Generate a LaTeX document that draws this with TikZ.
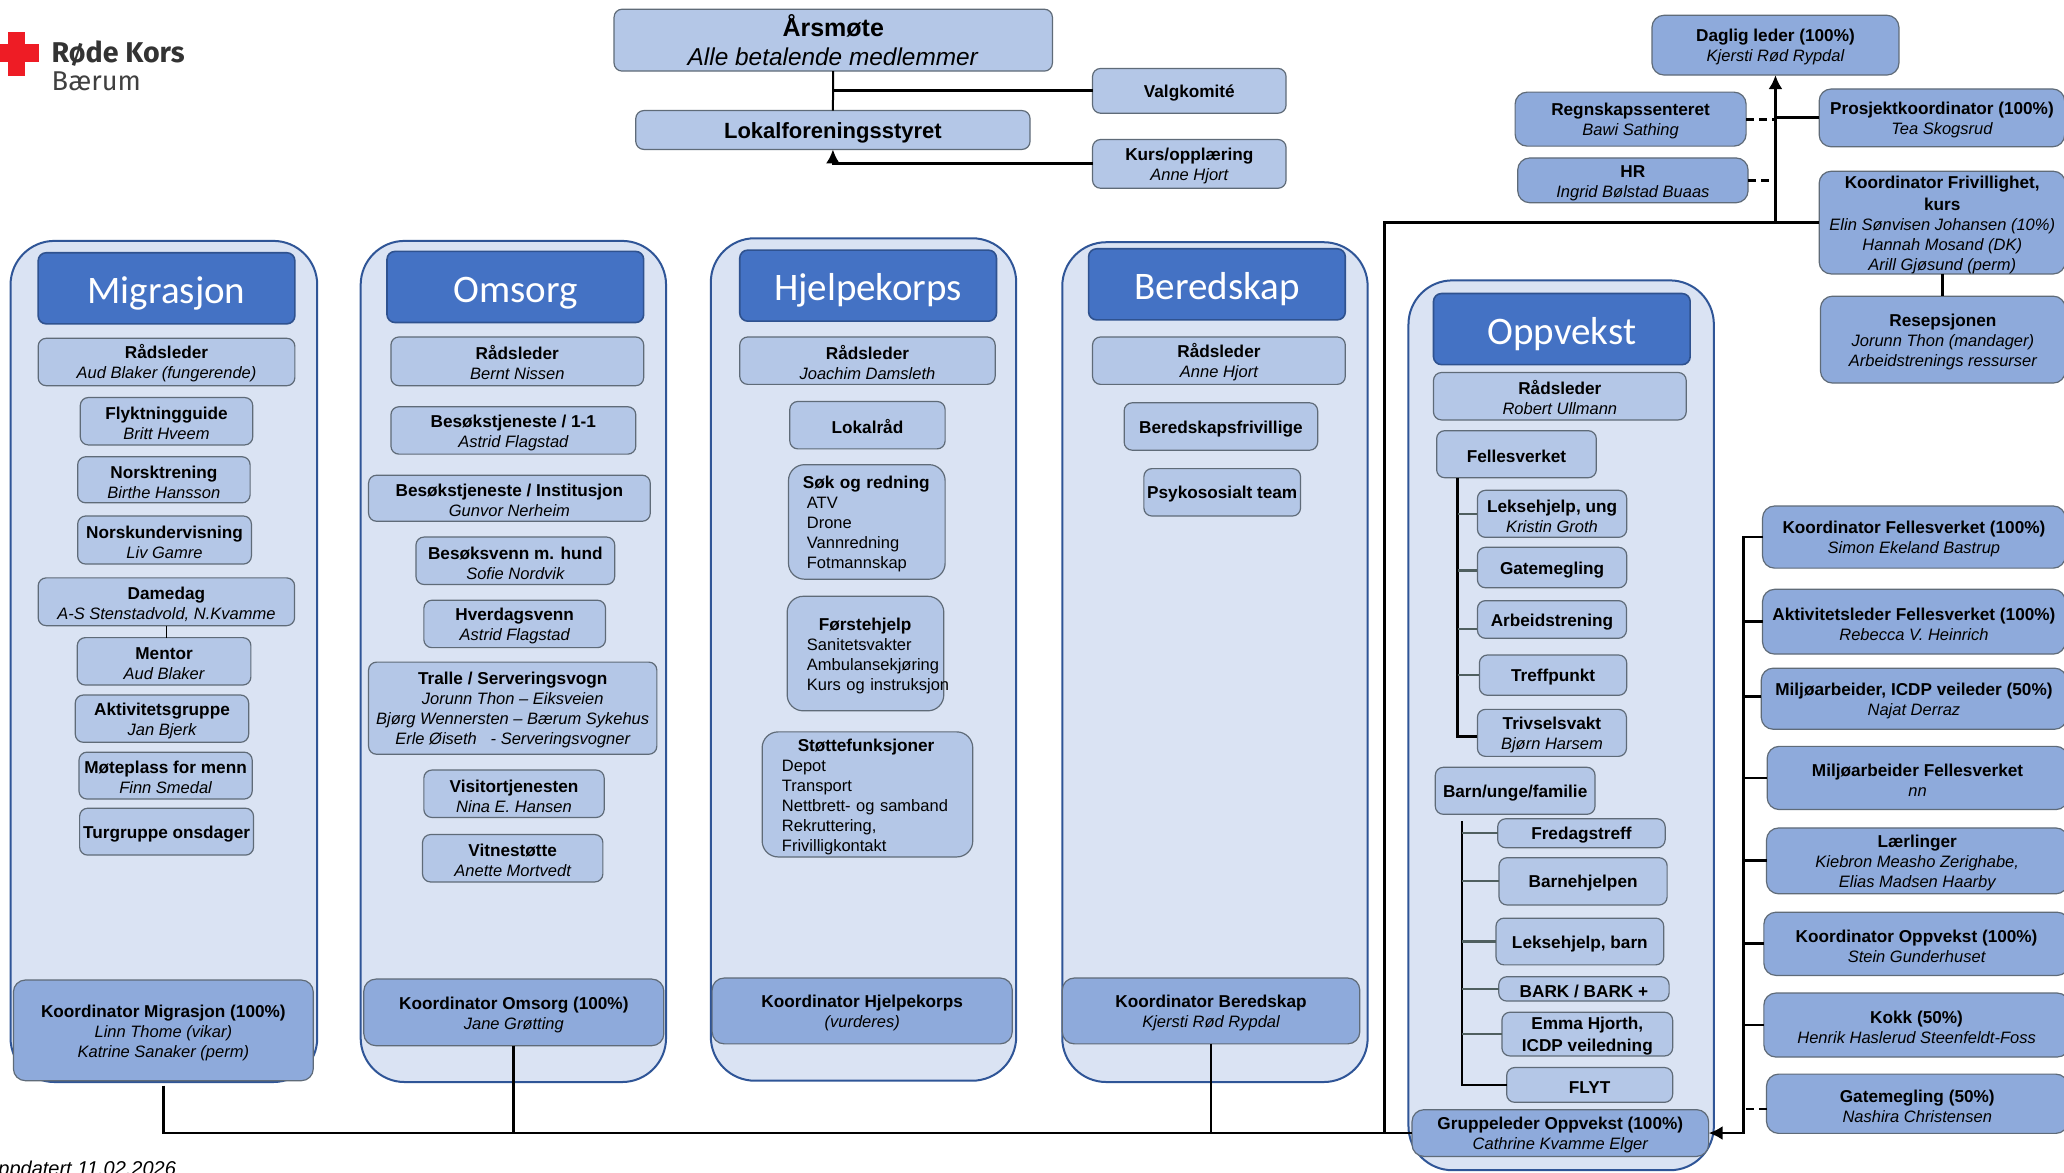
\documentclass[tikz,border=0pt]{standalone}
\usepackage{fontspec}
\setmainfont{Liberation Sans}
\newfontfamily\headfont{Carlito}
\newfontfamily\logofont{Fira Sans}
\usetikzlibrary{arrows.meta}
\definecolor{panelfill}{HTML}{DAE3F3}
\definecolor{paneldraw}{HTML}{2F5597}
\definecolor{headfill}{HTML}{4472C4}
\definecolor{headdraw}{HTML}{2F528F}
\definecolor{lightfill}{HTML}{B4C7E7}
\definecolor{darkfill}{HTML}{8EAADB}
\definecolor{boxdraw}{HTML}{5F6B78}
\definecolor{stubdraw}{HTML}{4F5F5F}
\definecolor{crossred}{HTML}{EE1C25}
\newcommand{\bd}[1]{\rule{0pt}{8.4pt}\textbf{#1}}
\newcommand{\nm}[1]{{\itshape\fontsize{8.25}{10}\selectfont #1}}
\newcommand{\ttl}[1]{{\bfseries\fontsize{8.6}{10}\selectfont #1}}
\tikzset{span/.style n args = {4}{at={({(#1+#3)/2},{(#2+#4)/2})}, minimum width={(#3-#1)*0.658163pt}, minimum height={(#4-#2)*0.658163pt}}}
\tikzset{panel/.style = {draw=paneldraw, fill=panelfill, line width=1pt, rounded corners=22pt, inner sep=0pt, outer sep=0pt}}
\tikzset{head/.style = {draw=headdraw, fill=headfill, text=white, line width=0.8pt, rounded corners=4pt, inner sep=0pt, outer sep=0pt, font=\headfont\fontsize{19.5}{22}\selectfont, execute at begin node={\rule{0pt}{18.5pt}}}}
\tikzset{basebox/.style = {draw=boxdraw, fill=lightfill, line width=0.6pt, rounded corners=4pt, inner sep=0pt, outer sep=0pt, font=\fontsize{8.6}{10}\selectfont}}
\tikzset{lightbox/.style = {basebox, align=center}}
\tikzset{darkbox/.style = {lightbox, fill=darkfill, rounded corners=6pt}}
\tikzset{leftbox/.style = {basebox, align=left, rounded corners=8pt, font=\fontsize{8.25}{10}\selectfont, execute at begin node={\rule{0pt}{8.4pt}}}}
\tikzset{conn/.style = {line width=1.4pt, black}}
\tikzset{thinconn/.style = {line width=0.7pt, black}}
\tikzset{stub/.style = {line width=1.1pt, stubdraw}}
\tikzset{dashconn/.style = {conn, dash pattern=on 4pt off 2.5pt}}

\begin{document}
\begin{tikzpicture}[x=0.658163pt, y=-0.658163pt, >={Latex[length=7pt,width=7pt]}]
  \path[use as bounding box, clip] (0,0) rectangle (1568,890.45);
  \fill [white] (0,0) rectangle (1568,890.45);

  % logo
  \fill [crossred] (6.4,24.6) rectangle (19,57.7);
  \fill [crossred] (0,33.7) rectangle (29.3,47.4);
  \node [anchor=base west, inner sep=0pt, text=black!80, font=\logofont\bfseries\fontsize{14.3}{18}\selectfont] (logotop) at (39,47.5) {Røde Kors};
  \node [anchor=base west, inner sep=0pt, text=black!75, font=\logofont\fontsize{13.6}{18}\selectfont] (logobottom) at (39,69) {Bærum};
  \node [anchor=base east, inner sep=0pt, font=\itshape\fontsize{10}{12}\selectfont] (updated) at (134,893) {Oppdatert 11.02.2026};

  % groups
  \node [panel, span={8}{183}{241}{822}] (migpanel) {};
  \node [panel, span={274}{183}{506}{822}] (omspanel) {};
  \node [panel, span={540}{181}{772}{821}] (hjpanel) {};
  \node [panel, span={807}{184}{1039}{822}] (berpanel) {};
  \node [panel, span={1070}{213}{1302}{889}] (opppanel) {};

  \node [head, span={29}{192}{224}{246}] (mighead) {Migrasjon};
  \node [head, span={294}{191}{489}{245}] (omshead) {Omsorg};
  \node [head, span={562}{190}{757}{244}] (hjhead) {Hjelpekorps};
  \node [head, span={827}{189}{1022}{243}] (berhead) {Beredskap};
  \node [head, span={1089}{223}{1284}{277}] (opphead) {Oppvekst};

  % top
  \node [lightbox, font=\fontsize{12.2}{14.5}\selectfont, span={466.5}{7}{799.5}{54}] (arsmote) {\textbf{\fontsize{12.5}{14.5}\selectfont Årsmøte}\\\textit{Alle betalende medlemmer}};
  \node [lightbox, font=\bfseries\fontsize{11}{13}\selectfont, span={483}{84}{782.5}{113.5}] (styret) {\rule{0pt}{11pt}Lokalforeningsstyret};
  \node [lightbox, span={830}{52}{977}{86}] (valg) {\bd{Valgkomité}};
  \node [lightbox, span={830}{106}{977}{143}] (kurs) {\bd{Kurs/opplæring}\\\nm{Anne Hjort}};

  \node [darkbox, span={1255}{11.6}{1442.6}{57}] (daglig) {\bd{Daglig leder (100\%)}\\\nm{Kjersti Rød Rypdal}};
  \node [darkbox, span={1151}{70}{1326.5}{111}] (regnskap) {\bd{Regnskapssenteret}\\\nm{Bawi Sathing}};
  \node [darkbox, span={1153}{120}{1328}{154}] (hr) {\bd{HR}\\\nm{Ingrid Bølstad Buaas}};
  \node [darkbox, span={1382}{67.6}{1568.5}{111.5}] (prosjekt) {\bd{Prosjektkoordinator (100\%)}\\\nm{Tea Skogsrud}};
  \node [darkbox, span={1382}{131.6}{1569}{206.6}] (frivillig) {\bd{Koordinator Frivillighet,}\\\bd{kurs}\\\nm{Elin Sønvisen Johansen (10\%)}\\\nm{Hannah Mosand (DK)}\\\nm{Arill Gjøsund (perm)}};
  \node [darkbox, span={1383}{225}{1569}{291}] (resepsjon) {\bd{Resepsjonen}\\\nm{Jorunn Thon (mandager)}\\\nm{Arbeidstrenings ressurser}};

  % Migrasjon
  \node [lightbox, span={29}{257}{224}{293}] (migrad) {\bd{Rådsleder}\\\nm{Aud Blaker (fungerende)}};
  \node [lightbox, span={61}{302}{192}{338}] (flykt) {\bd{Flyktningguide}\\\nm{Britt Hveem}};
  \node [lightbox, span={59}{347}{190}{382}] (norsktren) {\bd{Norsktrening}\\\nm{Birthe Hansson}};
  \node [lightbox, span={59}{392}{191}{428.5}] (norskund) {\bd{Norskundervisning}\\\nm{Liv Gamre}};
  \node [lightbox, span={29}{439}{223.8}{475.3}] (damedag) {\bd{Damedag}\\\nm{A-S Stenstadvold, N.Kvamme}};
  \node [lightbox, span={58.7}{484.4}{190.6}{520.4}] (mentor) {\bd{Mentor}\\\nm{Aud Blaker}};
  \node [lightbox, span={57.2}{528}{188.9}{563.9}] (aktgruppe) {\bd{Aktivitetsgruppe}\\\nm{Jan Bjerk}};
  \node [lightbox, span={60}{571.4}{191.6}{607}] (moteplass) {\bd{Møteplass for menn}\\\nm{Finn Smedal}};
  \node [lightbox, span={60.5}{614}{192.6}{649.6}] (turgruppe) {\bd{Turgruppe onsdager}};
  \node [darkbox, span={10.2}{744.5}{238}{821}] (koordmig) {\bd{Koordinator Migrasjon (100\%)}\\\nm{Linn Thome (vikar)}\\\nm{Katrine Sanaker (perm)}};

  % Omsorg
  \node [lightbox, span={297}{256}{489}{293}] (omsrad) {\bd{Rådsleder}\\\nm{Bernt Nissen}};
  \node [lightbox, span={297}{309}{483}{345}] (besok) {\bd{Besøkstjeneste / 1-1}\\\nm{Astrid Flagstad}};
  \node [lightbox, span={280}{361}{494}{396}] (besokinst) {\bd{Besøkstjeneste / Institusjon}\\\nm{Gunvor Nerheim}};
  \node [lightbox, span={316}{408}{467}{444}] (besokhund) {\bd{Besøksvenn m. hund}\\\nm{Sofie Nordvik}};
  \node [lightbox, span={322}{456}{460}{492}] (hverdag) {\bd{Hverdagsvenn}\\\nm{Astrid Flagstad}};
  \node [lightbox, span={280}{503}{499}{573}] (tralle) {\bd{Tralle / Serveringsvogn}\\\nm{Jorunn Thon – Eiksveien}\\\nm{Bjørg Wennersten – Bærum Sykehus}\\\nm{Erle Øiseth \ \ - Serveringsvogner}};
  \node [lightbox, span={322}{585}{459}{621}] (visitor) {\bd{Visitortjenesten}\\\nm{Nina E. Hansen}};
  \node [lightbox, span={321}{634}{458}{670}] (vitne) {\bd{Vitnestøtte}\\\nm{Anette Mortvedt}};
  \node [darkbox, span={276.4}{743.8}{504.3}{794.4}] (koordoms) {\bd{Koordinator Omsorg (100\%)}\\\nm{Jane Grøtting}};

  % Hjelpekorps
  \node [lightbox, span={562}{256}{756}{292}] (hjrad) {\bd{Rådsleder}\\\nm{Joachim Damsleth}};
  \node [lightbox, span={600}{305}{718}{341}] (lokalrad) {\bd{Lokalråd}};
  \node [leftbox, text width=78.3pt, span={599}{353}{718}{440}] (sok) {\hspace*{7.2pt}\ttl{Søk og redning}\\\hspace*{9.2pt}ATV\\\hspace*{9.2pt}Drone\\\hspace*{9.2pt}Vannredning\\\hspace*{9.2pt}Fotmannskap};
  \node [leftbox, text width=78.3pt, span={598}{453}{717}{540}] (forstehjelp) {\hspace*{15.8pt}\ttl{Førstehjelp}\\\hspace*{9.9pt}Sanitetsvakter\\\hspace*{9.9pt}Ambulansekjøring\\\hspace*{9.9pt}\makebox[0pt][l]{Kurs og instruksjon}};
  \node [leftbox, text width=105.3pt, span={579}{556}{739}{651}] (stotte) {\hspace*{17.8pt}\ttl{Støttefunksjoner}\\\hspace*{9.9pt}Depot\\\hspace*{9.9pt}Transport\\\hspace*{9.9pt}Nettbrett- og samband\\\hspace*{9.9pt}Rekruttering,\\\hspace*{9.9pt}Frivilligkontakt};
  \node [darkbox, span={541}{743}{769}{793}] (koordhj) {\bd{Koordinator Hjelpekorps}\\\nm{(vurderes)}};

  % Beredskap
  \node [lightbox, span={830}{256}{1022}{292}] (berrad) {\bd{Rådsleder}\\\nm{Anne Hjort}};
  \node [lightbox, span={854}{306}{1001}{342}] (berfrivillig) {\bd{Beredskapsfrivillige}};
  \node [lightbox, span={869}{356}{988}{392}] (psyko) {\bd{Psykososialt team}};
  \node [darkbox, span={807}{743}{1033}{793}] (koordber) {\bd{Koordinator Beredskap}\\\nm{Kjersti Rød Rypdal}};

  % Oppvekst
  \node [lightbox, span={1089}{283}{1281}{319}] (opprad) {\bd{Rådsleder}\\\nm{Robert Ullmann}};
  \node [lightbox, span={1091.4}{327.2}{1212.7}{362.9}] (fellesverket) {\bd{Fellesverket}};
  \node [lightbox, span={1122.4}{372.5}{1235.8}{408.2}] (leksung) {\bd{Leksehjelp, ung}\\\nm{Kristin Groth}};
  \node [lightbox, span={1122.4}{415.8}{1235.8}{446.5}] (gatemegl) {\bd{Gatemegling}};
  \node [lightbox, span={1122.4}{456.3}{1235.6}{484.9}] (arbeid) {\bd{Arbeidstrening}};
  \node [lightbox, span={1123.9}{497.6}{1235.8}{528.2}] (treff) {\bd{Treffpunkt}};
  \node [lightbox, span={1122.4}{538.9}{1235.6}{574.6}] (trivsel) {\bd{Trivselsvakt}\\\nm{Bjørn Harsem}};
  \node [lightbox, span={1090.4}{582.9}{1211.7}{618.6}] (barnunge) {\bd{Barn/unge/familie}};
  \node [lightbox, span={1137.8}{622}{1265}{644}] (fredag) {\bd{Fredagstreff}};
  \node [lightbox, span={1138.8}{651.6}{1266.5}{687.5}] (barnehjelp) {\bd{Barnehjelpen}};
  \node [lightbox, span={1136.5}{697.5}{1263.9}{733}] (leksbarn) {\bd{Leksehjelp, barn}};
  \node [lightbox, span={1138.6}{742}{1268}{760.5}] (bark) {\bd{BARK / BARK +}};
  \node [lightbox, span={1141}{769}{1270.7}{802.2}] (emma) {\bd{Emma Hjorth,}\\\bd{ICDP veiledning}};
  \node [lightbox, span={1144.6}{811}{1270.7}{837.4}] (flyt) {\bd{FLYT}};
  \node [darkbox, span={1072.7}{843}{1298}{878.5}] (gruppeleder) {\bd{Gruppeleder Oppvekst (100\%)}\\\nm{Cathrine Kvamme Elger}};

  % right column
  \node [darkbox, span={1339}{384.4}{1569}{431.6}] (koordfelles) {\bd{Koordinator Fellesverket (100\%)}\\\nm{Simon Ekeland Bastrup}};
  \node [darkbox, span={1339}{447.7}{1569}{496.9}] (aktleder) {\bd{Aktivitetsleder Fellesverket (100\%)}\\\nm{Rebecca V. Heinrich}};
  \node [darkbox, span={1338}{507.6}{1570}{554}] (miljoicdp) {\bd{Miljøarbeider, ICDP veileder (50\%)}\\\nm{Najat Derraz}};
  \node [darkbox, span={1342.5}{567}{1571}{615}] (miljofelles) {\bd{Miljøarbeider Fellesverket}\\\nm{nn}};
  \node [darkbox, span={1342}{629}{1571}{679}] (laerling) {\bd{Lærlinger}\\\nm{Kiebron Measho Zerighabe,}\\\nm{Elias Madsen Haarby}};
  \node [darkbox, span={1340}{693}{1572}{741}] (koordopp) {\bd{Koordinator Oppvekst (100\%)}\\\nm{Stein Gunderhuset}};
  \node [darkbox, span={1340}{754.4}{1572}{803}] (kokk) {\bd{Kokk (50\%)}\\\nm{Henrik Haslerud Steenfeldt-Foss}};
  \node [darkbox, span={1342}{816}{1571}{861}] (gatefelles) {\bd{Gatemegling (50\%)}\\\nm{Nashira Christensen}};

  % connectors
  \coordinate (hub) at (daglig.south |- frivillig.west);
  \coordinate (busjoin) at (1052,860.75);
  \coordinate (rightbar) at (1324.4,408);
  \coordinate (felltrunk) at (1107.4,362.9);
  \coordinate (barntrunk) at (1110.7,624);

  \draw [line width=1pt] (arsmote.south) -- (styret.north);
  \draw [conn] (valg.west) -- (valg.west -| arsmote.south);
  \draw [conn, ->] (kurs.west) -| (styret.south);

  \draw [conn, ->] (hub) -- (daglig.south);
  \draw [conn] (frivillig.west) -- (hub);
  \draw [conn] (prosjekt.west) -- (prosjekt.west -| hub);
  \draw [dashconn] (regnskap.east) -- (regnskap.east -| hub);
  \draw [dashconn] (hr.east) -- (hr.east -| hub);
  \draw [conn] (frivillig.south) -- (frivillig.south |- resepsjon.north);
  \draw [conn] (hub) -| (busjoin);

  \draw [thinconn] (damedag.south) -- (mentor.north -| damedag.south);

  \draw [conn] ([yshift=-2.5pt]koordmig.south) |- (gruppeleder.west);
  \draw [conn] (koordoms.south) -- (koordoms.south |- gruppeleder.west);
  \draw [conn] (koordber.south) -- (koordber.south |- gruppeleder.west);

  \draw [conn, ->] (koordfelles.west) -- (koordfelles.west -| rightbar) |- (gruppeleder.east);
  \draw [conn] (aktleder.west) -- (aktleder.west -| rightbar);
  \draw [conn] ([yshift=1pt]miljoicdp.west) -- ([yshift=1pt]miljoicdp.west -| rightbar);
  \draw [conn] (miljofelles.west) -- (miljofelles.west -| rightbar);
  \draw [conn] (laerling.west) -- (laerling.west -| rightbar);
  \draw [conn] (koordopp.west) -- (koordopp.west -| rightbar);
  \draw [conn] (kokk.west) -- (kokk.west -| rightbar);
  \draw [dashconn] ([yshift=-2.6pt]gatefelles.west) -- ([yshift=-2.6pt]gatefelles.west -| rightbar);

  \draw [conn] (felltrunk) |- ([yshift=-2pt]trivsel.west);
  \draw [stub] (leksung.west) -- (leksung.west -| felltrunk);
  \draw [stub] ([yshift=-1.5pt]gatemegl.west) -- ([yshift=-1.5pt]gatemegl.west -| felltrunk);
  \draw [stub] ([yshift=-4.8pt]arbeid.west) -- ([yshift=-4.8pt]arbeid.west -| felltrunk);
  \draw [stub] (treff.west) -- (treff.west -| felltrunk);

  \draw [conn] (barntrunk) |- (flyt.west);
  \draw [stub] (fredag.west) -- (fredag.west -| barntrunk);
  \draw [stub] (barnehjelp.west) -- (barnehjelp.west -| barntrunk);
  \draw [stub] (leksbarn.west) -- (leksbarn.west -| barntrunk);
  \draw [stub] (bark.west) -- (bark.west -| barntrunk);
  \draw [stub] (emma.west) -- (emma.west -| barntrunk);
\end{tikzpicture}
\end{document}
